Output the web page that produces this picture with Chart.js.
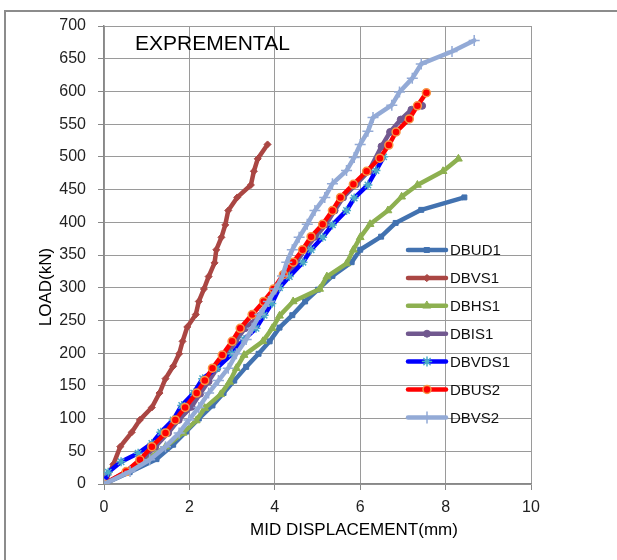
<!DOCTYPE html>
<html>
<head>
<meta charset="utf-8">
<script src="https://cdn.jsdelivr.net/npm/chart.js"></script>
<style>
  html, body { margin: 0; padding: 0; background: #fff; overflow: hidden; }
  #frame { position: absolute; left: 4px; top: 10px; width: 660px; height: 620px; border-top: 2px solid #8c8c8c; border-left: 2px solid #8c8c8c; }
  #chart { position: absolute; left: 0; top: 0; }
</style>
</head>
<body>
<div id="frame"></div>
<canvas id="chart" width="617" height="560"></canvas>
<script>
// mid displacement (mm) / load (kN)
var DBUD1_x = [0, 0.6, 1.23, 1.62, 1.92, 2.22, 2.54, 2.8, 3.05, 3.33, 3.62, 3.88, 4.11, 4.41, 4.71, 5.01, 5.35, 5.8, 6.0, 6.49, 6.83, 7.43, 8.44];
var DBUD1_y = [0, 18, 38, 60, 80, 100, 120, 139, 158, 179, 199, 218, 239, 258, 279, 297, 318, 339, 358, 378, 399, 419, 438];

var DBVS1_x = [0, 0.22, 0.38, 0.65, 0.84, 1.12, 1.3, 1.44, 1.62, 1.76, 1.84, 1.95, 2.15, 2.22, 2.34, 2.45, 2.59, 2.63, 2.75, 2.84, 2.91, 3.12, 3.44, 3.51, 3.6, 3.83];
var DBVS1_y = [0, 30, 57, 79, 98, 117, 139, 161, 180, 199, 218, 240, 259, 279, 298, 317, 338, 358, 377, 396, 418, 438, 457, 478, 497, 519];

var DBHS1_x = [0, 0.5, 1.0, 1.44, 1.85, 2.16, 2.36, 2.73, 2.94, 3.1, 3.28, 3.72, 3.94, 4.11, 4.43, 5.05, 5.22, 5.68, 5.84, 6.0, 6.23, 6.65, 6.97, 7.34, 7.94, 8.3];
var DBHS1_y = [0, 17, 37, 57, 78, 97, 116, 137, 156, 177, 197, 218, 238, 257, 279, 298, 317, 337, 358, 377, 397, 418, 439, 457, 478, 497];

var DBIS1_x = [0, 0.5, 0.9, 1.2, 1.5, 1.75, 2.05, 2.25, 2.45, 2.65, 2.88, 3.08, 3.3, 3.65, 3.85, 4.05, 4.25, 4.5, 4.7, 4.95, 5.2, 5.4, 5.6, 5.9, 6.2, 6.5, 6.7, 6.95, 7.2, 7.45];
var DBIS1_y = [0, 18, 37, 57, 78, 98, 118, 138, 157, 177, 197, 218, 238, 257, 279, 298, 318, 338, 358, 378, 397, 418, 438, 458, 478, 516, 538, 557, 572, 578];

var DBVDS1_x = [0, 0.1, 0.4, 0.8, 1.12, 1.33, 1.62, 1.82, 2.1, 2.31, 2.64, 3.0, 3.28, 3.56, 3.75, 3.93, 4.11, 4.34, 4.66, 4.85, 5.12, 5.35, 5.68, 5.86, 6.18, 6.37, 6.55];
var DBVDS1_y = [0, 18, 34, 47, 62, 79, 98, 120, 139, 161, 177, 199, 221, 238, 258, 276, 300, 317, 339, 358, 377, 396, 418, 437, 457, 479, 500];

var DBUS2_x = [0, 0.52, 0.84, 1.12, 1.44, 1.67, 1.9, 2.17, 2.36, 2.54, 2.77, 3.0, 3.19, 3.47, 3.74, 3.97, 4.2, 4.43, 4.65, 4.85, 5.12, 5.35, 5.54, 5.84, 6.15, 6.46, 6.67, 6.84, 7.15, 7.34, 7.55];
var DBUS2_y = [0, 19, 37, 57, 78, 98, 117, 139, 158, 177, 197, 218, 238, 259, 279, 298, 320, 339, 358, 378, 397, 418, 438, 458, 478, 498, 518, 538, 558, 578, 598];

var DBVS2_x = [0, 0.61, 1.07, 1.44, 1.76, 1.99, 2.22, 2.45, 2.68, 2.91, 3.1, 3.33, 3.47, 3.65, 3.85, 4.02, 4.18, 4.28, 4.41, 4.57, 4.76, 4.94, 5.17, 5.35, 5.68, 5.86, 6.0, 6.18, 6.3, 6.74, 6.92, 7.22, 7.43, 8.15, 8.67];
var DBVS2_y = [0, 19, 37, 57, 78, 98, 117, 139, 158, 177, 199, 221, 238, 259, 279, 298, 318, 339, 358, 377, 397, 418, 438, 459, 479, 499, 519, 539, 560, 579, 599, 620, 642, 661, 678];

var seriesNames = ['DBUD1', 'DBVS1', 'DBHS1', 'DBIS1', 'DBVDS1', 'DBUS2', 'DBVS2'];
var xTicks = [0, 2, 4, 6, 8, 10];
var yTicks = [0, 50, 100, 150, 200, 250, 300, 350, 400, 450, 500, 550, 600, 650, 700];

function toPoints(xs, ys) {
    return xs.map(function (x, i) { return { x: x, y: ys[i] }; });
}

var seriesData = [
    toPoints(DBUD1_x, DBUD1_y),
    toPoints(DBVS1_x, DBVS1_y),
    toPoints(DBHS1_x, DBHS1_y),
    toPoints(DBIS1_x, DBIS1_y),
    toPoints(DBVDS1_x, DBVDS1_y),
    toPoints(DBUS2_x, DBUS2_y),
    toPoints(DBVS2_x, DBVS2_y)
];

var styles = [
    { line: '#4272B0', fill: '#4272B0', edge: '#4272B0', shape: 'rect', r: 3.5, bw: 1 },
    { line: '#AA4643', fill: '#AA4643', edge: '#AA4643', shape: 'rectRot', r: 3.5, bw: 1 },
    { line: '#8DB050', fill: '#8DB050', edge: '#8DB050', shape: 'triangle', r: 4.5, bw: 1 },
    { line: '#71588F', fill: '#71588F', edge: '#71588F', shape: 'circle', r: 3.5, bw: 1 },
    { line: '#0000FF', fill: '#4BACC6', edge: '#4BACC6', shape: 'star', r: 4.5, bw: 1.5 },
    { line: '#FF0000', fill: '#FF0000', edge: '#F79646', shape: 'circle', r: 4, bw: 1.5 },
    { line: '#93AAD6', fill: '#93AAD6', edge: '#93AAD6', shape: 'cross', r: 5.5, bw: 1.5 }
];

var datasets = seriesNames.map(function (name, i) {
    var s = styles[i];
    return {
        label: name,
        data: seriesData[i],
        borderColor: s.line,
        borderWidth: 4.5,
        borderJoinStyle: 'round',
        borderCapStyle: 'round',
        pointStyle: s.shape,
        pointRadius: s.r,
        pointBackgroundColor: s.fill,
        pointBorderColor: s.edge,
        pointBorderWidth: s.bw,
        tension: 0,
        order: seriesNames.length - i
    };
});

// texts and the legend are drawn by hand to sit where the original has them
var overlay = {
    id: 'overlay',
    afterDraw: function (chart) {
        var ctx = chart.ctx;
        ctx.save();
        ctx.fillStyle = '#000';
        ctx.textBaseline = 'middle';
        ctx.font = '21px "Liberation Sans", Arial, sans-serif';
        ctx.textAlign = 'left';
        ctx.fillText('EXPREMENTAL', 135, 44);

        ctx.font = '17px "Liberation Sans", Arial, sans-serif';
        ctx.textAlign = 'center';
        ctx.fillText('MID DISPLACEMENT(mm)', 354, 530);
        ctx.save();
        ctx.translate(46, 287);
        ctx.rotate(-Math.PI / 2);
        ctx.fillText('LOAD(kN)', 0, 0);
        ctx.restore();

        ctx.font = '15px "Liberation Sans", Arial, sans-serif';
        ctx.textAlign = 'left';
        for (var i = 0; i < seriesNames.length; i++) {
            var s = styles[i];
            var y = 250 + i * 27.9;
            ctx.strokeStyle = s.line;
            ctx.lineWidth = 4.5;
            ctx.lineCap = 'round';
            ctx.beginPath();
            ctx.moveTo(408, y);
            ctx.lineTo(446, y);
            ctx.stroke();
            ctx.fillStyle = s.fill;
            ctx.strokeStyle = s.edge;
            ctx.lineWidth = s.bw;
            Chart.helpers.drawPoint(ctx, { pointStyle: s.shape, radius: s.r, borderWidth: s.bw, rotation: 0 }, 427, y);
            ctx.fillStyle = '#111';
            ctx.fillText(seriesNames[i], 450, y + 1);
        }
        ctx.restore();
    }
};

var gridColor = '#9a9a9a';

new Chart(document.getElementById('chart').getContext('2d'), {
    type: 'line',
    data: { datasets: datasets },
    options: {
        responsive: false,
        animation: false,
        layout: { padding: { top: 26, right: 86, bottom: 0, left: 0 } },
        plugins: {
            legend: { display: false },
            tooltip: { enabled: false }
        },
        scales: {
            x: {
                type: 'linear',
                min: 0,
                max: 10,
                afterFit: function (scale) { scale.height = 76; },
                afterBuildTicks: function (scale) { scale.ticks = xTicks.map(function (v) { return { value: v }; }); },
                grid: { color: gridColor, lineWidth: 1, borderDash: [4, 3], tickLength: 6, tickBorderDash: [], tickColor: '#888' },
                border: { display: true, color: '#888', width: 1.5 },
                ticks: { color: '#222', padding: 8, font: { family: '"Liberation Sans", Arial, sans-serif', size: 16 }, maxRotation: 0 }
            },
            y: {
                type: 'linear',
                min: 0,
                max: 700,
                afterFit: function (scale) { scale.width = 104; },
                afterBuildTicks: function (scale) { scale.ticks = yTicks.map(function (v) { return { value: v }; }); },
                grid: { color: gridColor, lineWidth: 1, borderDash: [4, 3], tickLength: 6, tickBorderDash: [], tickColor: '#888' },
                border: { display: true, color: '#888', width: 1.5 },
                ticks: { color: '#222', padding: 12, font: { family: '"Liberation Sans", Arial, sans-serif', size: 16 } }
            }
        }
    },
    plugins: [overlay]
});
</script>
</body>
</html>
